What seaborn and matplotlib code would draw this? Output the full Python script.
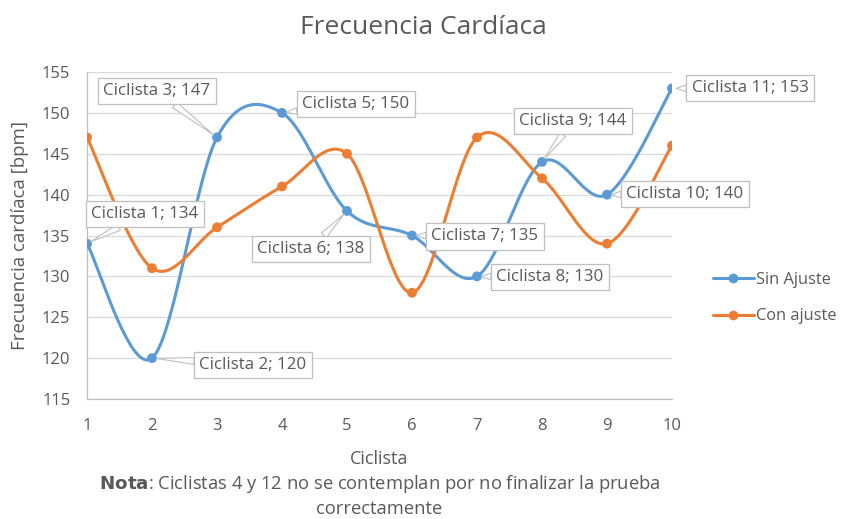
import numpy as np
import pandas as pd
import seaborn as sns
import matplotlib.pyplot as plt
from matplotlib.lines import Line2D

ciclista_pos = [1, 2, 3, 4, 5, 6, 7, 8, 9, 10]
ciclista_id = [1, 2, 3, 5, 6, 7, 8, 9, 10, 11]
sin_ajuste = [134, 120, 147, 150, 138, 135, 130, 144, 140, 153]
con_ajuste = [147, 131, 136, 141, 145, 128, 147, 142, 134, 146]

# label offsets (pixels) for Sin Ajuste data labels
label_offsets = [(58, 30), (101, -7), (-60, 46), (74, 9), (-36, -38),
                 (73, -1), (73, -1), (31, 41), (78, 1), (78, 0)]

BLUE = '#5B9BD5'
ORANGE = '#ED7D31'
GREY = '#595959'


def smooth(x, y, n=40):
    # bezier smoothing through the points (Excel-like)
    x = np.asarray(x, float)
    y = np.asarray(y, float)
    xs, ys = [], []
    for i in range(len(x) - 1):
        p0 = np.array([x[max(i - 1, 0)], y[max(i - 1, 0)]])
        p1 = np.array([x[i], y[i]])
        p2 = np.array([x[i + 1], y[i + 1]])
        p3 = np.array([x[min(i + 2, len(x) - 1)], y[min(i + 2, len(x) - 1)]])
        c1 = p1 + (p2 - p0) / 6
        c2 = p2 - (p3 - p1) / 6
        t = np.linspace(0, 1, n)[:, None]
        pts = ((1 - t) ** 3) * p1 + 3 * ((1 - t) ** 2) * t * c1 + 3 * (1 - t) * t ** 2 * c2 + t ** 3 * p2
        xs.extend(pts[:, 0])
        ys.extend(pts[:, 1])
    return xs, ys


sns.set_style('white')
plt.rcParams['font.family'] = ['Open Sans', 'DejaVu Sans']

fig = plt.figure(figsize=(8.45, 5.19), dpi=100)
ax = fig.add_axes([87 / 845, 1 - 399 / 519, 585 / 845, 327 / 519])

curves = []
for name, vals in [('Sin Ajuste', sin_ajuste), ('Con ajuste', con_ajuste)]:
    sx, sy = smooth(ciclista_pos, vals)
    curves.append(pd.DataFrame({'x': sx, 'y': sy, 'serie': name}))
curves = pd.concat(curves, ignore_index=True)
pts = pd.DataFrame({
    'x': ciclista_pos * 2,
    'y': sin_ajuste + con_ajuste,
    'serie': ['Sin Ajuste'] * 10 + ['Con ajuste'] * 10,
})
pal = {'Sin Ajuste': BLUE, 'Con ajuste': ORANGE}

sns.lineplot(data=curves, x='x', y='y', hue='serie', palette=pal, sort=False,
             estimator=None, linewidth=2.2, legend=False, ax=ax, zorder=3)
sns.scatterplot(data=pts, x='x', y='y', hue='serie', palette=pal, s=50,
                edgecolor='none', legend=False, ax=ax, zorder=4)

ax.set_xlim(1, 10)
ax.set_ylim(115, 155)
ax.set_xticks(ciclista_pos)
ax.set_yticks(range(115, 156, 5))
ax.yaxis.grid(True, color='#d9d9d9', linewidth=0.9)
for s in ['top', 'right']:
    ax.spines[s].set_visible(False)
for s in ['left', 'bottom']:
    ax.spines[s].set_color('#bfbfbf')
    ax.spines[s].set_linewidth(0.9)
ax.tick_params(axis='x', length=3.6, color='#bfbfbf', labelcolor=GREY, labelsize=12, pad=10)
ax.tick_params(axis='y', length=5, color='#d9d9d9', labelcolor=GREY, labelsize=12, pad=7)
ax.set_axisbelow(True)

ax.set_xlabel('Ciclista', fontsize=13, color=GREY)
ax.xaxis.set_label_coords(0.5, (399 - 459) / 327)
ax.xaxis.label.set_va('center')
ax.set_ylabel('Frecuencia cardíaca [bpm]', fontsize=13.4, color=GREY)
ax.yaxis.set_label_coords((20 - 87) / 585, 0.5)
ax.yaxis.label.set_va('center')

for xi, yi, cid, off in zip(ciclista_pos, sin_ajuste, ciclista_id, label_offsets):
    ax.annotate(f'Ciclista {cid}; {yi}', xy=(xi, yi), xytext=off,
                textcoords='offset pixels', ha='center', va='center',
                fontsize=12.2, color=GREY, zorder=6,
                bbox=dict(boxstyle='square,pad=0.3', fc='white', ec='#bfbfbf', lw=0.9),
                arrowprops=dict(arrowstyle='wedge,tail_width=0.4', fc='white',
                                ec='#bfbfbf', lw=0.8, shrinkA=0, shrinkB=3))

fig.text(423 / 845, 1 - 27 / 519, 'Frecuencia Cardíaca', ha='center', va='center',
         fontsize=19, color=GREY)
fig.text(379.5 / 845, 1 - 484 / 519,
         r'$\bf{Nota}$: Ciclistas 4 y 12 no se contemplan por no finalizar la prueba',
         ha='center', va='center', fontsize=13.2, color=GREY)
fig.text(379.5 / 845, 1 - 509 / 519, 'correctamente', ha='center', va='center',
         fontsize=13.2, color=GREY)

handles = [Line2D([], [], color=BLUE, lw=2.2, marker='o', ms=7, mec='none'),
           Line2D([], [], color=ORANGE, lw=2.2, marker='o', ms=7, mec='none')]
leg = fig.legend(handles, ['Sin Ajuste', 'Con ajuste'], loc='center left',
                 bbox_to_anchor=(713 / 845, 1 - 298 / 519), frameon=False,
                 borderpad=0, borderaxespad=0,
                 fontsize=11.8, handlelength=2.5, handletextpad=0.15, labelspacing=1.25,
                 labelcolor=GREY)

fig.savefig('out.png', dpi=100)
